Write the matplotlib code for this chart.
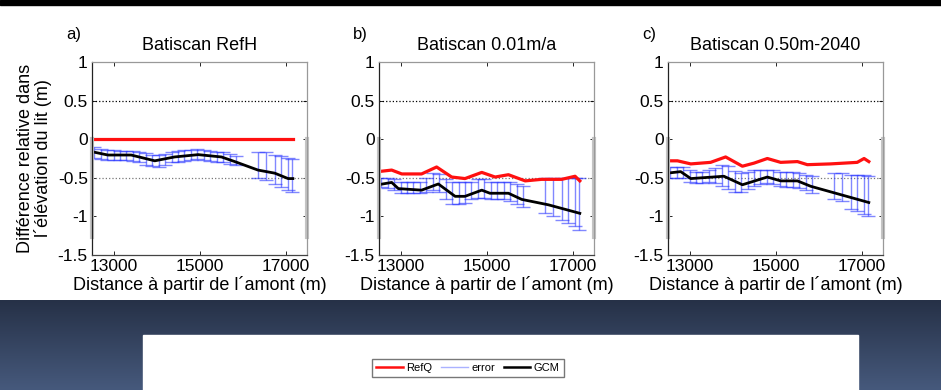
import numpy as np
import matplotlib
matplotlib.use('Agg')
import matplotlib.pyplot as plt
from matplotlib.lines import Line2D

plt.rcParams['font.family'] = ['Liberation Sans', 'DejaVu Sans']

titles = ['Batiscan RefH', 'Batiscan 0.01m/a', 'Batiscan 0.50m-2040']
letters = ['a)', 'b)', 'c)']

# RefQ curves (red)
refq_x = [
    [12480, 17170],
    [12480, 12795, 13030, 13490, 13840, 14190, 14500, 14890, 15200, 15510,
     15900, 16280, 16750, 17060, 17170],
    [12480, 12720, 13030, 13490, 13840, 14230, 14500, 14810, 15120, 15510,
     15740, 16280, 16900, 17060, 17170],
]
refq_y = [
    [0.0, 0.0],
    [-0.42, -0.40, -0.45, -0.45, -0.36, -0.49, -0.51, -0.43, -0.49, -0.46,
     -0.54, -0.52, -0.52, -0.48, -0.54],
    [-0.28, -0.28, -0.32, -0.30, -0.23, -0.35, -0.31, -0.25, -0.30, -0.29,
     -0.33, -0.32, -0.30, -0.25, -0.29],
]

# GCM curves (black)
gcm_x = [
    [12480, 12870, 13410, 13960, 14420, 14970, 15510, 15820, 16360, 16750,
     17060, 17170],
    [12480, 12795, 12950, 13490, 13880, 14270, 14500, 14890, 15080, 15510,
     15820, 16440, 17170],
    [12480, 12795, 13030, 13800, 14230, 14810, 15120, 15510, 15820, 17170],
]
gcm_y = [
    [-0.16, -0.205, -0.205, -0.28, -0.23, -0.20, -0.23, -0.29, -0.40, -0.44,
     -0.51, -0.51],
    [-0.59, -0.56, -0.64, -0.66, -0.58, -0.74, -0.74, -0.66, -0.70, -0.70,
     -0.78, -0.85, -0.96],
    [-0.44, -0.42, -0.51, -0.48, -0.59, -0.49, -0.54, -0.54, -0.61, -0.82],
]

# error bars (blue): positions and lower / upper ends
err_x = [12550, 12700, 12850, 13000, 13150, 13300, 13450, 13600, 13750,
         13900, 14050, 14200, 14350, 14500, 14650, 14800, 14950, 15100,
         15250, 15400, 15550, 15700, 15850,
         16350, 16550, 16750, 16900, 17050, 17150]
err_hi = [
    [-0.10, -0.13, -0.14, -0.14, -0.15, -0.15, -0.15, -0.16, -0.18, -0.20,
     -0.21, -0.19, -0.17, -0.15, -0.14, -0.14, -0.13, -0.14, -0.15, -0.16,
     -0.17, -0.19, -0.22,
     -0.17, -0.17, -0.20, -0.22, -0.24, -0.25],
    [-0.50, -0.50, -0.52, -0.55, -0.56, -0.56, -0.55, -0.50, -0.44, -0.45,
     -0.52, -0.56, -0.56, -0.56, -0.55, -0.52, -0.52, -0.55, -0.56, -0.55,
     -0.56, -0.58, -0.60,
     -0.50, -0.50, -0.50, -0.50, -0.50, -0.50],
    [-0.36, -0.36, -0.36, -0.40, -0.42, -0.42, -0.40, -0.37, -0.33, -0.35,
     -0.41, -0.44, -0.42, -0.40, -0.40, -0.40, -0.40, -0.42, -0.43, -0.43,
     -0.44, -0.46, -0.48,
     -0.44, -0.44, -0.46, -0.46, -0.47, -0.48],
]
err_lo = [
    [-0.24, -0.26, -0.27, -0.27, -0.27, -0.27, -0.28, -0.30, -0.33, -0.35,
     -0.36, -0.33, -0.30, -0.29, -0.28, -0.27, -0.26, -0.27, -0.28, -0.29,
     -0.30, -0.32, -0.34,
     -0.50, -0.53, -0.58, -0.62, -0.66, -0.68],
    [-0.62, -0.63, -0.66, -0.70, -0.70, -0.70, -0.70, -0.68, -0.66, -0.68,
     -0.78, -0.84, -0.84, -0.82, -0.78, -0.76, -0.76, -0.78, -0.78, -0.78,
     -0.80, -0.84, -0.88,
     -0.95, -1.00, -1.05, -1.08, -1.12, -1.18],
    [-0.50, -0.50, -0.50, -0.56, -0.57, -0.57, -0.56, -0.57, -0.60, -0.64,
     -0.68, -0.68, -0.64, -0.60, -0.58, -0.57, -0.58, -0.60, -0.62, -0.62,
     -0.63, -0.66, -0.70,
     -0.78, -0.80, -0.90, -0.93, -0.97, -0.99],
]

fig = plt.figure(figsize=(9.41, 3.90), dpi=100)

# background: black strip on top, blue gradient band at the bottom, white box
bg = fig.add_axes([0, 0, 1, 1], zorder=-10)
bg.set_xlim(0, 1)
bg.set_ylim(0, 1)
bg.axis('off')
bg.axhspan(1 - 5 / 390, 1, color='black')
grad = np.linspace(0, 1, 100).reshape(-1, 1)
cmap = matplotlib.colors.LinearSegmentedColormap.from_list('band', ['#46597c', '#263147'])
bg.imshow(grad, extent=[0, 1, 0, 1 - 300 / 390], aspect='auto', cmap=cmap, origin='lower')
bg.add_patch(plt.Rectangle((143 / 941, 0), 715 / 941, 55 / 390, color='white'))

lefts = [92 / 941, 379 / 941, 668 / 941]
for i in range(3):
    ax = fig.add_axes([lefts[i], 1 - 255 / 390, 215 / 941, 193 / 390])
    ax.set_xlim(12500, 17500)
    ax.set_ylim(-1.5, 1)

    ax.axhline(0.5, color='black', linestyle=':', linewidth=0.9)
    ax.axhline(-0.5, color='#777777', linestyle=':', linewidth=0.9)

    lo = np.array(err_lo[i])
    hi = np.array(err_hi[i])
    mid = (lo + hi) / 2
    ax.errorbar(err_x, mid, yerr=[mid - lo, hi - mid], fmt='none',
                ecolor=(0.15, 0.2, 1.0), alpha=0.58, elinewidth=1.0, capsize=5,
                capthick=1.0)
    ax.plot(refq_x[i], refq_y[i], color='#ff1010', linewidth=2.3)
    ax.plot(gcm_x[i], gcm_y[i], color='black', linewidth=2.0)

    # light grey bars on the frame edges (from 0 down to about -1.27)
    for xe in (12500, 17500):
        ax.axvline(xe, ymin=(-1.27 + 1.5) / 2.5, ymax=(0 + 1.5) / 2.5,
                   color='#c4c4c4', linewidth=3, clip_on=False)

    ax.set_xticks([13000, 15000, 17000])
    ax.set_yticks([-1.5, -1, -0.5, 0, 0.5, 1])
    ax.set_yticklabels(['-1.5', '-1', '-0.5', '0', '0.5', '1'])
    ax.tick_params(direction='in', length=3, width=0.6, labelsize=12.5,
                   top=True, right=True, pad=3)
    ax.spines['top'].set_color('#999999')
    ax.spines['right'].set_color('#999999')
    ax.spines['left'].set_color('#222222')
    ax.spines['bottom'].set_color('#444444')
    for s in ax.spines.values():
        s.set_linewidth(0.9)

    ax.set_title(titles[i], fontsize=13, pad=9)
    ax.set_xlabel('Distance à partir de l´amont (m)', fontsize=13, labelpad=1)
    ax.text(-0.12, 1.14, letters[i], transform=ax.transAxes, fontsize=12,
            ha='left', va='center')
    if i == 0:
        ax.set_ylabel('Différence relative dans\nl´élévation du lit (m)',
                      fontsize=13, labelpad=4, linespacing=1.0)

handles = [
    Line2D([], [], color='#ff1010', linewidth=1.8),
    Line2D([], [], color='#aab2ff', linewidth=1.0),
    Line2D([], [], color='black', linewidth=1.8),
]
fig.legend(handles, ['RefQ', 'error', 'GCM'], loc='center',
           bbox_to_anchor=(468 / 941, 1 - 368 / 390), ncol=3, fontsize=8,
           frameon=True, fancybox=False, edgecolor='#555555',
           handlelength=2.4, handletextpad=0.3, columnspacing=0.8,
           borderpad=0.35)

fig.savefig('out.png', dpi=100, facecolor='white')
